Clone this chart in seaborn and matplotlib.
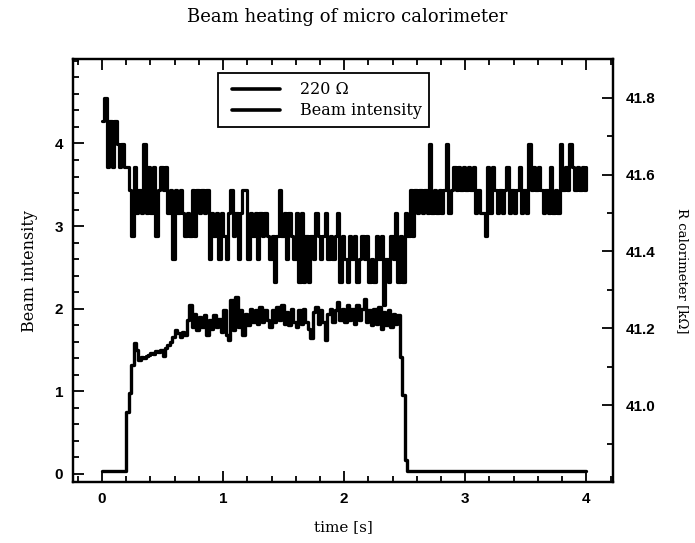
import numpy as np
import pandas as pd
import matplotlib
matplotlib.use("Agg")
import matplotlib.pyplot as plt
from matplotlib.ticker import MultipleLocator
from matplotlib.lines import Line2D
from matplotlib.legend_handler import HandlerLine2D
import seaborn as sns

# sampling grid of the recorder, 20 ms per sample
time_s = np.round(np.arange(0, 201) * 0.02, 2)

# calorimeter resistance [kOhm]
r_calorimeter = [
    41.74, 41.80, 41.62, 41.74, 41.62, 41.74, 41.68, 41.62, 41.68, 41.62,
    41.62, 41.56, 41.44, 41.62, 41.50, 41.56, 41.50, 41.68, 41.50, 41.62,
    41.50, 41.62, 41.44, 41.56, 41.62, 41.56, 41.62, 41.50, 41.56, 41.38,
    41.56, 41.50, 41.56, 41.50, 41.44, 41.50, 41.44, 41.56, 41.44, 41.56,
    41.50, 41.56, 41.50, 41.56, 41.38, 41.50, 41.44, 41.50, 41.38, 41.50,
    41.44, 41.38, 41.50, 41.56, 41.44, 41.50, 41.38, 41.50, 41.56, 41.56,
    41.38, 41.50, 41.44, 41.50, 41.38, 41.50, 41.44, 41.50, 41.44, 41.38,
    41.44, 41.32, 41.44, 41.56, 41.44, 41.50, 41.38, 41.50, 41.44, 41.38,
    41.50, 41.32, 41.50, 41.32, 41.44, 41.32, 41.44, 41.38, 41.50, 41.44,
    41.38, 41.44, 41.50, 41.38, 41.44, 41.38, 41.44, 41.50, 41.32, 41.44,
    41.38, 41.32, 41.44, 41.38, 41.44, 41.32, 41.38, 41.44, 41.38, 41.44,
    41.32, 41.38, 41.32, 41.44, 41.38, 41.44, 41.26, 41.38, 41.32, 41.44,
    41.38, 41.50, 41.32, 41.44, 41.32, 41.50, 41.44, 41.56, 41.44, 41.56,
    41.50, 41.56, 41.50, 41.56, 41.50, 41.68, 41.50, 41.56, 41.50, 41.56,
    41.50, 41.56, 41.68, 41.50, 41.56, 41.62, 41.56, 41.62, 41.56, 41.62,
    41.56, 41.62, 41.56, 41.62, 41.50, 41.56, 41.50, 41.50, 41.44, 41.62,
    41.50, 41.62, 41.56, 41.50, 41.56, 41.50, 41.56, 41.62, 41.50, 41.56,
    41.50, 41.56, 41.62, 41.50, 41.56, 41.50, 41.68, 41.56, 41.62, 41.56,
    41.62, 41.56, 41.50, 41.56, 41.50, 41.62, 41.50, 41.56, 41.50, 41.68,
    41.56, 41.62, 41.56, 41.68, 41.62, 41.56, 41.62, 41.56, 41.62, 41.56,
    41.62,
]

# beam intensity [a.u.]
beam_intensity = (
    [0.03] * 10
    + [0.75, 0.98, 1.32, 1.58, 1.50, 1.38, 1.41, 1.40, 1.43, 1.44,
       1.46, 1.45, 1.49, 1.47, 1.50, 1.43, 1.52, 1.56, 1.60, 1.66,
       1.74, 1.70, 1.66, 1.72, 1.68, 1.86, 2.04, 1.78, 1.94, 1.74,
       1.90, 1.78, 1.92, 1.68, 1.86, 1.76, 1.92, 1.78, 1.88, 1.72,
       1.98, 1.68, 1.62, 2.10, 1.74, 2.14, 1.78, 1.98, 1.68, 1.94,
       1.80, 2.00, 1.84, 1.98, 1.82, 2.02, 1.84, 1.98, 1.86, 1.78,
       1.98, 1.84, 2.02, 1.86, 2.04, 1.82, 1.96, 1.80, 2.00, 1.84,
       1.78, 1.98, 1.82, 2.00, 1.84, 1.76, 1.64, 1.96, 2.02, 1.82,
       1.98, 1.84, 1.62, 1.94, 2.00, 1.84, 1.98, 2.08, 1.86, 2.00,
       1.84, 2.04, 1.86, 2.00, 1.82, 2.04, 1.86, 2.00, 2.12, 1.84,
       1.98, 1.80, 2.00, 1.82, 2.02, 1.76, 1.96, 1.80, 1.98, 1.78,
       1.94, 1.82, 1.92, 1.41, 0.95, 0.17]
    + [0.03] * 75
)

legend_labels = ["220 \u03a9", "Beam intensity"]
x_ticks = [0, 1, 2, 3, 4]
left_ticks = [0, 1, 2, 3, 4]
right_ticks = [41.0, 41.2, 41.4, 41.6, 41.8]

df = pd.DataFrame({"time": time_s, "R": r_calorimeter, "beam": beam_intensity})

ink = "black"
sns.set_style("ticks")
plt.rcParams["font.family"] = ["DejaVu Serif"]
plt.rcParams.update({"text.color": ink, "axes.labelcolor": ink,
                     "xtick.color": ink, "ytick.color": ink,
                     "axes.edgecolor": ink})

fig = plt.figure(figsize=(6.95, 5.43), dpi=100)
ax = fig.add_axes([0.105, 0.112, 0.777, 0.779])
ax2 = ax.twinx()

sns.lineplot(data=df, x="time", y="beam", ax=ax, color=ink, linewidth=2.4,
             drawstyle="steps-post", estimator=None, legend=False)
sns.lineplot(data=df, x="time", y="R", ax=ax2, color=ink, linewidth=2.3,
             drawstyle="steps-post", estimator=None, legend=False)

ax.set_xlim(-0.24, 4.22)
ax.set_ylim(-0.1, 5.02)
ax2.set_ylim(40.8, 41.9)

tick_font = dict(family="Liberation Sans", size=11, weight="bold")

ax.set_xticks(x_ticks)
ax.set_yticks(left_ticks)
ax2.set_yticks(right_ticks)
ax.xaxis.set_minor_locator(MultipleLocator(0.2))
ax.yaxis.set_minor_locator(MultipleLocator(0.2))
ax2.yaxis.set_minor_locator(MultipleLocator(0.1))
ax.set_xticklabels([str(v) for v in x_ticks], fontdict=tick_font)
ax.set_yticklabels([str(v) for v in left_ticks], fontdict=tick_font)
ax2.set_yticklabels([f"{v:.1f}" for v in right_ticks], fontdict=tick_font)

ax.tick_params(axis="x", which="both", direction="in", top=True, bottom=True,
               color=ink, width=1.3)
ax.tick_params(axis="y", which="both", direction="in", left=True, right=False,
               color=ink, width=1.3)
ax2.tick_params(axis="y", which="both", direction="in", right=True, left=False,
                color=ink, width=1.3)
for a in (ax, ax2):
    a.tick_params(which="major", length=8, pad=7)
    a.tick_params(which="minor", length=4)
ax2.tick_params(axis="y", which="major", pad=9)
for a in (ax, ax2):
    for s in a.spines.values():
        s.set_linewidth(1.6)
        s.set_color(ink)

ax.set_xlabel("time [s]", fontsize=11, labelpad=10)
ax.set_ylabel("Beam intensity", fontsize=11.5, labelpad=12)
ax2.set_ylabel("R calorimeter [k\u03a9]", fontsize=9.5, rotation=-90,
               labelpad=24)
fig.suptitle("Beam heating of micro calorimeter", fontsize=13, y=0.985)

handles = [Line2D([], [], color=ink, linewidth=2.6),
           Line2D([], [], color=ink, linewidth=2.6)]
inset_handler = HandlerLine2D(xpad=0.375)
leg = ax2.legend(handles, legend_labels, loc="upper left",
                 bbox_to_anchor=(0.268, 0.967), frameon=True, fancybox=False,
                 framealpha=1, edgecolor=ink, fontsize=11.5,
                 handlelength=3.375, handletextpad=1.25, borderpad=0.5,
                 labelspacing=0.25, borderaxespad=0,
                 handler_map={Line2D: inset_handler})
leg.get_frame().set_linewidth(1.3)

fig.savefig("out.png", dpi=100)
